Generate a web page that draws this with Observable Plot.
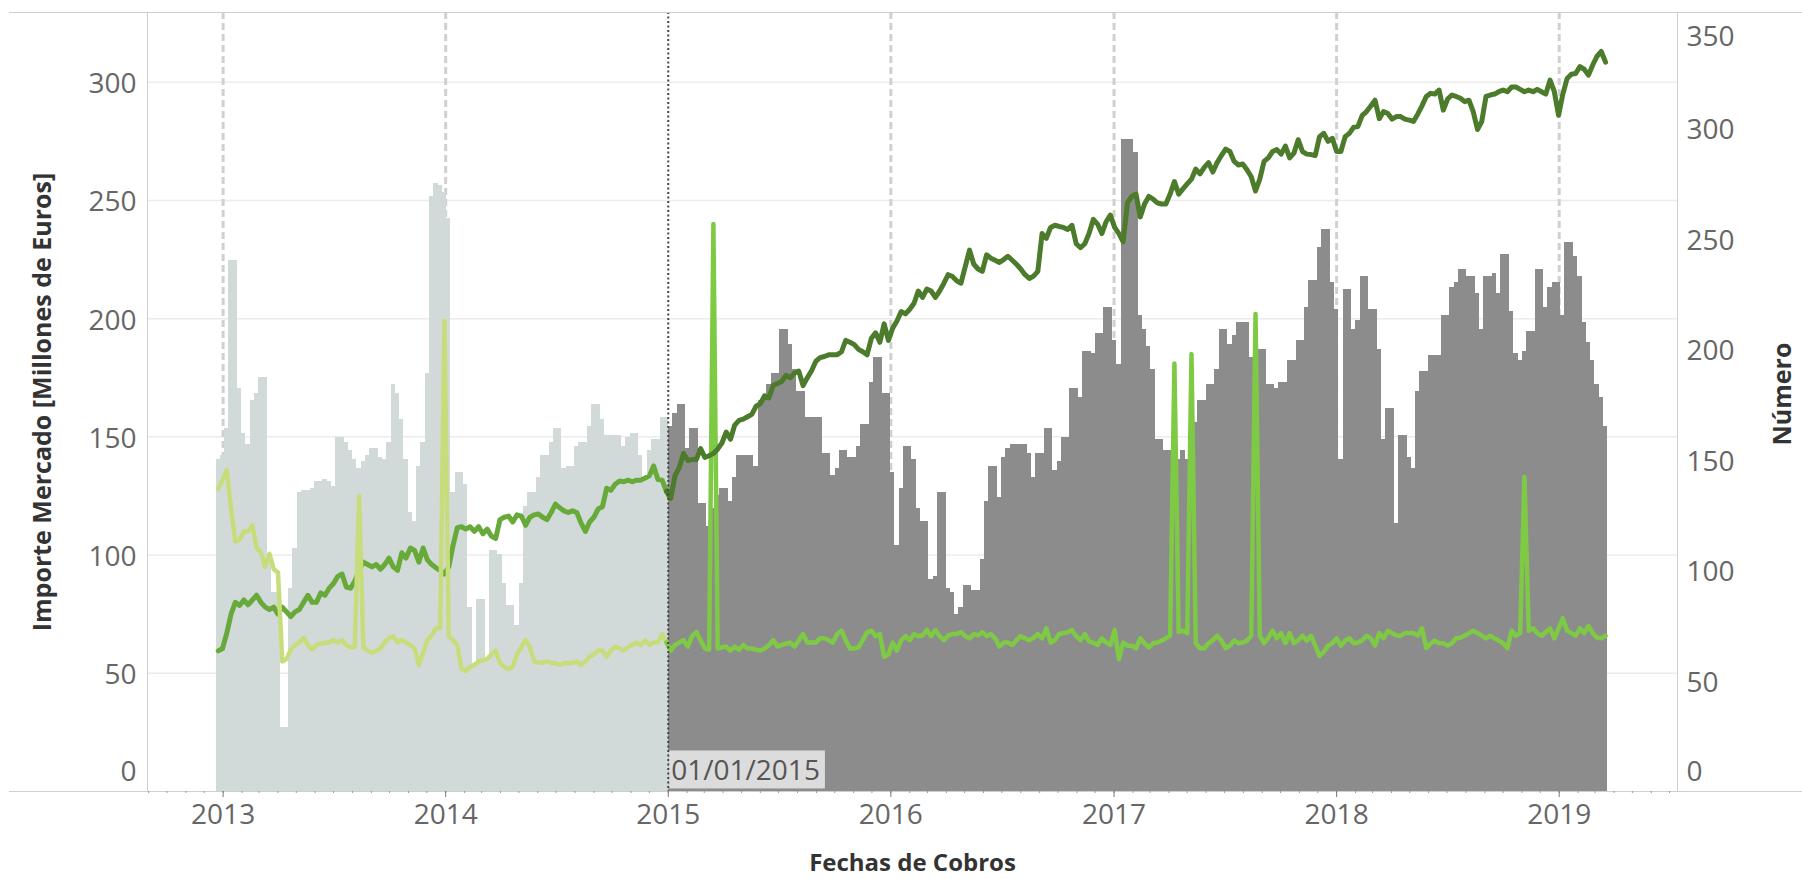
<!DOCTYPE html>
<html><head><meta charset="utf-8">
<script src="https://cdn.jsdelivr.net/npm/d3@7"></script>
<script src="https://cdn.jsdelivr.net/npm/@observablehq/plot@0.6"></script>
<style>html,body{margin:0;padding:0;background:#fff;}#chart{width:1802px;height:879px;}</style>
</head><body><div id="chart"></div>
<script>
// ---- weekly categories ----
const weekStart = "2012-12-24";
const weekEnd = "2019-03-18";
const cutDate = "2015-01-01";
const cutLabel = "01/01/2015";

// ---- bars: Número (right axis) ----
const numero = [
150,152,164,240,240,182,162,157,177,180,
187,187,107,90,90,29,29,92,110,135,
136,136,137,140,140,141,140,138,160,160,
158,154,150,146,149,152,155,155,151,150,
158,184,180,168,150,126,122,147,158,189,
269,275,274,271,259,135,144,144,139,83,
58,87,87,59,109,109,107,94,84,84,
75,94,129,135,135,142,152,152,158,164,
164,146,147,147,156,158,158,165,175,175,
168,161,161,161,161,156,160,162,162,152,
142,154,159,159,169,169,165,171,175,175,
155,164,164,130,130,120,128,134,137,137,
131,142,152,152,152,152,147,177,177,184,
189,189,209,209,202,191,181,181,169,169,
169,169,153,153,143,146,154,154,151,151,
156,166,166,185,196,196,180,180,144,111,
137,156,156,150,128,122,122,96,97,135,
135,92,90,80,83,93,93,91,91,105,
131,147,147,133,151,155,157,157,157,157,
153,142,153,153,164,164,145,149,160,160,
182,182,178,199,199,198,207,207,219,219,
204,193,295,295,295,289,215,209,201,191,
159,159,154,154,159,150,154,150,150,167,
177,177,184,184,191,209,209,202,206,212,
212,212,196,199,200,200,184,184,182,185,
185,195,195,204,204,219,231,231,246,254,
254,230,218,150,227,227,209,213,233,233,
218,218,200,159,173,173,121,161,161,151,
146,181,190,190,197,197,197,215,215,228,
230,236,236,233,233,225,209,233,233,234,
225,243,243,217,198,195,199,208,208,236,
236,219,228,230,230,215,248,248,242,233,
212,203,195,184,178,165];

// ---- line A: Importe Mercado (left axis), upper series ----
const serieA = [
59.5,60.5,67,75,80,78.7,81,79,81,83,
80,78,77,78,75,78,76,74,76,77,
80,83,80,80,84,83,86,88,91,92,
86.5,86,89,93.5,97,96,95,96,94,96,
98.7,95,93.5,101,98.7,103,102,97,103,98,
96,94.6,93.5,92,95,104,111.6,112,111,112,
110,112,109,111,108,107,115,116,116.5,114,
117,116.5,112.6,116,117,117.4,116,115,118,121.6,
120,118.7,118,118.7,118,113.5,110,114,116,119.5,
120.4,128.3,127.4,130,131.3,131,131.7,131,131.7,131.7,
132.6,133.5,137.7,132,131.7,127,124,133.5,137,143,
140,140.4,140.4,145,141.3,142,143,144.8,147.4,152,
149,155,157,157.5,158.5,159.5,163,164,167.4,166.5,
171.7,172.6,173.4,176,175,177,177.8,171.7,175,178,
182,183.5,184,184.7,184.7,184.7,186,190.8,190,189,
187,186,184.7,191.7,194,190,197.8,190.8,196,199,
203,202,204,206.5,211.7,209,212.5,211.7,209,211.7,
215,218.6,217.8,216,215,222,229,223,221,220,
227,225.6,224.7,223.8,225,226.4,224.7,223,221,218.6,
217,218,220,236,234,238.6,239.5,239,238.6,237.7,
239.5,231.7,230,231.7,236,242,240,236,241,243.8,
238.6,236,232.5,249,251.7,252.7,243,248.5,251.7,250.6,
249,248.5,248.5,252.7,258,252.7,254.9,257,259,263.3,
261.2,264,266,262,266,269,271.7,270.7,266.5,265,
265.4,263,260,254,259,266.5,268,270.7,271.5,269.6,
273,268,270,275.7,270.7,269.6,269.4,269,277,278.4,
275,276.3,270.7,270.7,277,278.4,281,281.3,286,287.6,
290,292.4,284.6,287.6,286.8,284.4,285.5,285.5,284.4,284,
283.4,286.5,290,294,295.3,295,296.7,288.2,292.9,294.6,
294,293.2,291.8,292.4,287.6,280,283.4,294,294.6,295,
296,296.7,296,298,298,297,296,296.7,296,297,
296,295,300.9,296,286,295,301.6,303.4,303.7,306.6,
305.5,303,307.3,311,313,308.5];

// ---- line B: lower series (left axis) ----
const serieB = [
128,131.7,136,119.6,105.7,106.5,110,110,112.6,103,
101,95,100.5,94,92.6,55,56,60,62,63,
65,62,60,62,62.5,63,63,64,63,64,
62,61,61,125,61,59.6,58.7,59.5,60.5,63,
65,65.7,63,64,63,62,60.5,53.5,58.7,64,
66,69,69,199,65.7,64,62,51.8,51,52.7,
53.5,55,55.5,56,58,59.6,54.4,52.7,51.8,52.7,
58,61,64,61,55,54.6,54.4,55,54.4,54.4,
53.5,54.4,54.4,54.4,55,53.5,55,57,58,59.6,
59.6,57,59.6,61.3,60.5,59.6,61,62,63,62,
64,62,63,63,66.6,63,59.6,62,63,64,
61.3,65.7,67.4,64,60.5,60,240,60.5,61,61.3,
59.6,61.3,60,62,60.5,60.5,60,59.6,60.5,62,
64,61.3,62,62.5,63,61.3,64,66.6,63,63,
63,64.8,64.8,64,63,66.6,68,64,60.5,60.5,
61,64,67.4,68,65.7,66.6,57,58,63,59.6,
64,65.7,64,66.6,65.7,66,68.3,65.7,68.3,65.7,
64,66,66.6,66.6,67.4,65.7,64.8,66.6,66,67.4,
65.7,66.6,64.8,61.3,63,63,62,64,65.7,64.8,
64,65,66.6,64.8,69,63,64,66.6,67,67.4,
68.3,65.7,64,66.6,63.5,63,62,64.8,63,62,
68.3,56,63,61.7,61.7,60.6,64.8,62.7,61,62.7,
63,63.8,64.8,65.9,181,67.5,68,67,185,62.7,
60.6,60.6,62.7,64,65.9,63.8,60.6,61.7,63.8,62.7,
63,63.8,65.9,202,65.9,62.7,65,68,64.8,67,
62.7,67,62.7,64,65.9,63.8,65.9,61.7,57.4,59,
61.7,62.7,64.8,61.7,63.8,64.8,62.7,63,64,65.9,
64.8,61.7,67,64.8,68,67,66,65.9,67,67,
67,65.9,69,60.6,62.5,63.8,62.7,62.7,61.7,62.7,
64.8,65,65.9,67,68,67,65.9,64.8,65.9,64.8,
63.8,62.7,60.6,68,65.9,67,133,68,69,67,
65.9,67.5,69,64.8,69,73.3,68,67,65.9,69,
67,70,67,65,64.8,65.9];

// ---- axes ----
const leftTicks = [0, 50, 100, 150, 200, 250, 300];
const rightTicks = [0, 50, 100, 150, 200, 250, 300, 350];
const yearTicks = ["2013-01-01","2014-01-01","2015-01-01","2016-01-01","2017-01-01","2018-01-01","2019-01-01"];
const yearRefs = ["2013-01-01","2014-01-01","2016-01-01","2017-01-01","2018-01-01","2019-01-01"];
const xDomain = ["2012-08-30", "2019-07-14"];
const leftMax = 329.5, rightMax = 352.2;

// ---- colours ----
const C = {
  barPre: "#d2dad9", barPost: "#8c8c8c",
  aPre: "#67aa3a", aPost: "#4b7b2b",
  bPre: "#c7dd7c", bPost: "#7fca45",
  grid: "#ececec", ref: "#d0d0d0", axis: "#cfcfcf",
  tick: "#666666", title: "#333333"
};

const DAY = 864e5;
const k = leftMax / rightMax; // right-axis units -> left-axis units
const cut = new Date(cutDate);
const weeks = d3.utcMonday.range(new Date(weekStart), d3.utcDay.offset(new Date(weekEnd), 1));
const table = weeks.map((date, i) => ({date, numero: numero[i], a: serieA[i], b: serieB[i]}));
const lastPre = d3.utcMonday.floor(cut);
const preBars = table.filter(d => d.date < cut);
const postBars = table.filter(d => d.date >= cut);
const preLine = table.filter(d => d.date <= lastPre);
const postLine = table.filter(d => d.date >= lastPre);
const years = yearTicks.map(s => new Date(s));
const refs = yearRefs.map(s => new Date(s));
const months = d3.utcMonth.range(new Date(xDomain[0]), new Date(xDomain[1]));

const barOpts = (fill) => ({
  x1: d => new Date(+d.date - 3.5 * DAY), x2: d => new Date(+d.date + 3.5 * DAY),
  y: d => d.numero * k, fill, inset: 0, shapeRendering: "crispEdges"
});
const font = "Open Sans";
const lineOpts = (y, stroke, w) => ({x: "date", y, stroke, strokeWidth: w, strokeLinejoin: "round", strokeLinecap: "round"});

const chart = Plot.plot({
  width: 1802, height: 879,
  marginLeft: 147, marginRight: 125, marginTop: 12, marginBottom: 88,
  style: {fontFamily: font, background: "#fff", overflow: "visible"},
  x: {type: "utc", domain: xDomain.map(s => new Date(s))},
  y: {domain: [0, leftMax], axis: null},
  marks: [
    Plot.ruleY(leftTicks.filter(v => v > 0), {stroke: C.grid, strokeWidth: 1.5}),
    Plot.ruleX(refs, {stroke: C.ref, strokeWidth: 3, strokeDasharray: "7,4"}),
    Plot.rectY(preBars, barOpts(C.barPre)),
    Plot.rectY(postBars, barOpts(C.barPost)),
    Plot.line(preLine, lineOpts("a", C.aPre, 5)),
    Plot.line(preLine, lineOpts("b", C.bPre, 4.5)),
    Plot.line(postLine, lineOpts("b", C.bPost, 4.5)),
    Plot.line(postLine, lineOpts("a", C.aPost, 5)),
    Plot.text([cutLabel], {x: cut, y: 0, dx: 3, dy: -20, textAnchor: "start", lineAnchor: "middle", fontSize: 28, fill: "#555"}),
    Plot.ruleX([cut], {stroke: "#444", strokeWidth: 2, strokeDasharray: "2,2.5"}),
    Plot.frame({stroke: C.axis}),
    Plot.ruleY([0], {stroke: C.axis, insetLeft: -138, insetRight: -125}),
    Plot.ruleY([leftMax], {stroke: C.axis, insetLeft: -138, insetRight: -125}),
    Plot.axisX(months, {tickSize: 2, tickFormat: () => "", stroke: "#999", label: null}),
    Plot.axisX(years, {tickSize: 6, tickFormat: () => "", stroke: "#777", label: null}),
    Plot.text(years, {x: d => d, y: 0, text: d => String(d.getUTCFullYear()), dy: 24, lineAnchor: "middle", fontSize: 28, fill: C.tick}),
    Plot.text(leftTicks.filter(v => v > 0), {y: d => d, text: d => String(d), frameAnchor: "left", dx: -11, dy: 2, textAnchor: "end", lineAnchor: "middle", fontSize: 28, fill: C.tick}),
    Plot.text([0], {y: d => d, text: d => String(d), frameAnchor: "left", dx: -11, dy: -19, textAnchor: "end", lineAnchor: "middle", fontSize: 28, fill: C.tick}),
    Plot.text(rightTicks.filter(v => v > 0 && v < 350), {y: d => d * k, text: d => String(d), frameAnchor: "right", dx: 9, dy: 2, textAnchor: "start", lineAnchor: "middle", fontSize: 28, fill: C.tick}),
    Plot.text([0], {y: d => d * k, text: d => String(d), frameAnchor: "right", dx: 9, dy: -19, textAnchor: "start", lineAnchor: "middle", fontSize: 28, fill: C.tick}),
    Plot.text([350], {y: d => d * k, text: d => String(d), frameAnchor: "right", dx: 9, dy: 20, textAnchor: "start", lineAnchor: "middle", fontSize: 28, fill: C.tick}),
    Plot.text(["Importe Mercado [Millones de Euros]"], {frameAnchor: "left", dx: -105, rotate: -90, textAnchor: "middle", lineAnchor: "middle", fontSize: 25, fontWeight: "bold", fill: C.title}),
    Plot.text(["Número"], {frameAnchor: "right", dx: 105, dy: -8, rotate: -90, textAnchor: "middle", lineAnchor: "middle", fontSize: 25, fontWeight: "bold", fill: C.title}),
    Plot.text(["Fechas de Cobros"], {frameAnchor: "bottom", dy: 72, textAnchor: "middle", lineAnchor: "middle", fontSize: 24, fontWeight: "bold", fill: C.title})
  ]
});
document.getElementById("chart").append(chart);

// light box behind the reference-date label
chart.querySelectorAll("text").forEach(t => {
  if (t.textContent !== cutLabel) return;
  const bb = t.getBBox();
  const r = document.createElementNS("http://www.w3.org/2000/svg", "rect");
  r.setAttribute("x", bb.x - 3);
  r.setAttribute("y", bb.y);
  r.setAttribute("width", bb.width + 8);
  r.setAttribute("height", bb.height);
  r.setAttribute("fill", "#dcdcdc");
  const tr = t.getAttribute("transform");
  if (tr) r.setAttribute("transform", tr);
  t.parentNode.insertBefore(r, t);
});
</script>
</body></html>
